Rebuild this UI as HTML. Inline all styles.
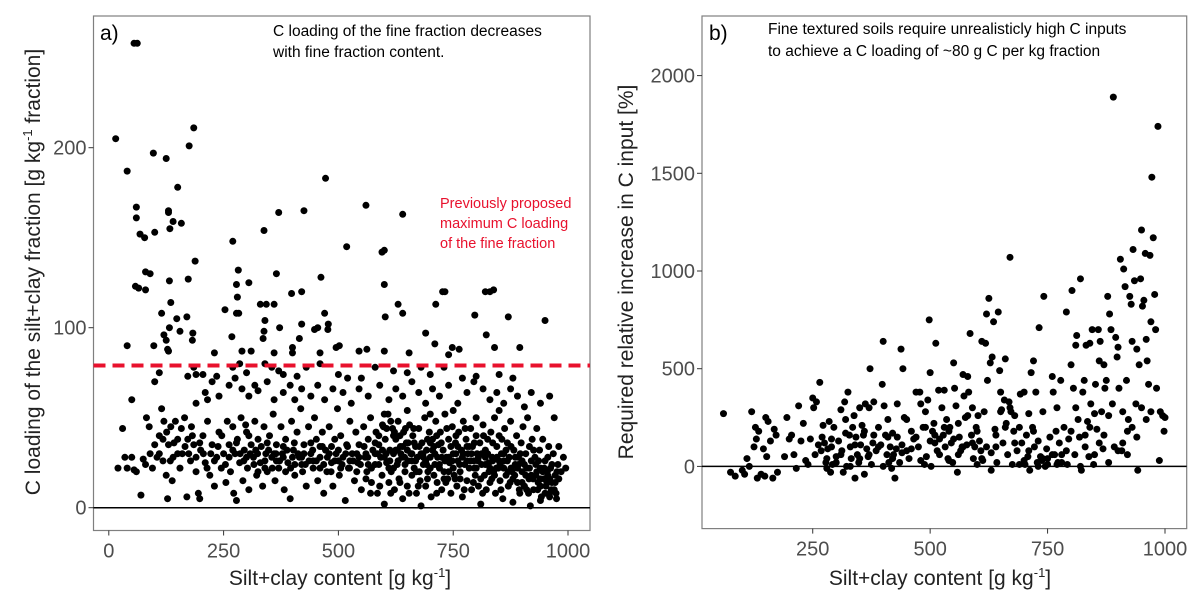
<!DOCTYPE html>
<html><head><meta charset="utf-8"><style>
html,body{margin:0;padding:0;background:#fff;}
svg{display:block;font-family:"Liberation Sans",Arial,sans-serif;}
</style></head><body>
<svg id="chart" width="1200" height="598" viewBox="0 0 1200 598">
<rect x="0" y="0" width="1200" height="598" fill="#fff"/>
<g id="pa"></g>
<g id="pb"></g>
</svg>
<script>
// Panel a data: [silt+clay g/kg, C loading g/kg]
const aPoints = [
[55,258],[62,258],[15,205],[40,187],[97,197],[125,194],[175,201],[185,211],[150,178],[60,167],[60,161],[130,165],[130,164],[140,159],[158,158],[133,155],[100,153],[68,152],[78,150],[188,137],[80,131],[90,130],[58,123],[65,122],[80,121],[132,126],[173,127],[270,148],[282,132],[278,124],[305,125],[280,117],[365,130],[398,119],[420,120],[338,154],[370,164],[425,165],[462,128],[472,183],[560,168],[640,163],[518,145],[595,142],[600,143],[600,124],[630,113],[640,108],[602,106],[712,113],[727,120],[732,120],[820,120],[830,120],[838,121],[797,107],[870,106],[950,104],[822,96],[895,89],[840,89],[763,88],[748,89],[740,85],[710,91],[690,97],[654,86],[600,87],[562,88],[502,90],[495,89],[478,102],[477,99],[470,108],[448,99],[455,100],[420,102],[415,94],[400,89],[372,100],[338,98],[336,94],[340,104],[330,113],[343,113],[360,113],[278,108],[283,108],[253,110],[230,86],[268,95],[290,87],[310,87],[115,108],[135,114],[148,105],[170,106],[120,96],[132,100],[125,93],[155,98],[183,97],[182,93],[130,87],[128,88],[98,90],[40,90],[360,86],[400,86],[460,86],[545,87],
[50,60],[100,70],[110,75],[172,73],[185,78],[190,74],[205,74],[225,70],[235,73],[270,78],[275,72],[285,80],[300,75],[318,68],[340,80],[355,78],[370,76],[380,74],[410,73],[430,78],[460,80],[500,74],[520,72],[550,72],[580,78],[620,76],[650,75],[680,78],[700,74],[730,78],[770,72],[800,73],[850,74],[880,72],[920,64],[960,62],[190,58],[210,64],[215,60],[240,62],[262,68],[290,66],[305,62],[325,65],[345,70],[360,60],[380,64],[395,68],[405,60],[420,66],[440,62],[455,68],[470,60],[488,66],[510,64],[528,58],[545,66],[565,62],[590,68],[610,60],[625,66],[640,62],[660,70],[675,64],[690,58],[705,66],[720,62],[740,68],[760,58],[780,64],[795,70],[815,66],[830,60],[845,64],[860,58],[875,66],[890,62],[905,56],[940,58],[970,50],
[20,22],[30,44],[35,28],[40,22],[50,28],[55,21],[60,20],[70,7],[75,27],[80,24],[82,50],[88,45],[90,30],[95,22],[100,35],[105,28],[110,40],[115,55],[118,26],[120,48],[125,18],[128,5],[130,35],[135,45],[138,15],[140,28],[145,48],[150,38],[155,22],[160,30],[165,50],[170,6],[172,38],[178,26],[180,45],[185,35],[190,20],[195,8],[198,5],[200,32],[205,40],[210,25],[215,48],[220,18],[225,35],[230,12],[235,28],[240,42],[245,22],[250,30],[255,14],[258,48],[262,35],[265,20],[270,45],[272,8],[275,30],[278,4],[280,38],[285,25],[288,50],[292,15],[295,32],[300,42],[302,22],[305,10],[310,35],[315,28],[318,48],[322,18],[325,38],[330,25],[335,12],[338,45],[342,30],[345,20],[350,40],[355,28],[358,52],[362,15],[365,35],[370,22],[375,45],[378,30],[382,10],[385,38],[390,25],[395,5],[398,48],[402,32],[405,18],[410,42],[415,28],[418,55],[422,20],[425,35],[430,12],[435,45],[440,30],[445,22],[448,50],[452,38],[455,15],[460,28],[465,42],[468,8],[472,32],[475,20],[480,45],[485,25],[488,12],[492,38],[495,30],[498,55],[502,18],[505,40],[510,28],[515,4],[518,35],[522,22],[525,48],[530,30],[535,15],[538,42],[542,25],[545,35],[550,10],[555,45],[558,28],[562,20],[565,38],[570,50],[572,14],[575,32],[580,24],[582,42],[585,8],[588,35],[592,28],[595,18],[598,45],[600,2],[602,38],[605,25],[608,52],[610,14],[612,32],[615,20],[618,44],[620,30],[622,10],[625,38],[628,24],[630,48],[632,16],[635,34],[638,28],[640,5],[642,42],[645,20],[648,36],[650,12],[652,26],[655,46],[658,30],[660,18],[662,40],[665,22],[668,34],[670,8],[672,28],[675,44],[678,15],[680,1],[682,36],[685,24],[688,50],[690,12],[692,32],[695,20],[698,42],[700,28],[702,6],[705,38],[708,18],[710,30],[712,48],[715,14],[718,35],[720,24],[722,42],[725,10],[728,32],[730,20],[732,52],[735,28],[738,16],[740,38],[742,25],[745,8],[748,45],[750,30],[752,18],[755,36],[758,12],[760,26],[762,42],[765,20],[768,32],[770,6],[772,48],[775,24],[778,38],[780,15],[782,30],[785,22],[788,44],[790,10],[792,34],[795,26],[798,18],[800,40],[802,30],[805,12],[808,36],[810,2],[812,24],[815,46],[818,18],[820,32],[822,10],[825,38],[828,25],[830,14],[832,42],[835,28],[838,20],[840,50],[842,8],[845,34],[848,22],[850,40],[852,15],[855,30],[858,5],[860,26],[862,44],[865,18],[868,36],[870,12],[872,28],[875,48],[878,20],[880,3],[882,32],[885,24],[888,40],[890,14],[892,28],[895,8],[898,36],[900,20],[902,45],[905,12],[908,30],[910,22],[912,50],[915,16],[918,1],[920,26],[922,38],[925,10],[928,28],[930,18],[932,44],[935,14],[938,32],[940,22],[942,6],[945,38],[948,16],[950,26],[952,12],[955,20],[958,34],[960,8],[962,22],[965,14],[968,30],[970,10],[972,18],[975,5],[978,24],[980,34],[985,20],[990,28],[995,22],
[300,28],[320,32],[340,26],[360,30],[380,34],[400,28],[420,24],[440,36],[460,22],[480,30],[500,26],[520,34],[540,20],[560,30],[580,36],[600,28],[620,40],[640,34],[660,26],[680,30],[700,36],[720,22],[740,28],[760,34],[780,26],[800,22],[820,28],[840,18],[860,22],[880,16],[900,14],[920,18],[940,12],[960,16],[610,22],[630,26],[650,32],[670,20],[690,26],[710,24],[730,16],[750,22],[770,28],[790,30],[810,16],[830,22],[850,26],[870,20],[890,22],[910,10],[930,24],[950,8],[305,40],[325,20],[345,36],[365,26],[385,20],[405,24],[425,30],[445,26],[465,34],[485,34],[505,22],[525,26],[545,28],[565,24],[585,30],[605,44],[625,32],[645,24],[665,36],[685,28],[705,32],[725,28],[745,34],[765,16],[785,34],[805,28],[825,30],[845,28],[865,32],[885,28],[905,24],[925,32],[945,20],[965,24],
[110,30],[118,38],[126,42],[134,26],[142,36],[150,30],[158,44],[166,34],[174,30],[182,40],[190,28],[198,36],[206,30],[214,22],[222,30],[230,26],[238,34],[246,40],[254,24],[262,28],[270,32],[278,36],[286,30],[294,26],[298,46],[308,30],[316,24],[324,30],[332,34],[340,22],[348,32],[356,22],[364,30],[372,26],[380,28],[388,32],[396,22],[404,36],[412,30],[420,28],[428,24],[436,26],[444,32],[452,26],[460,34],[468,24],[476,28],[484,20],[492,26],[500,32],[508,24],[516,30],[524,22],[532,26],[540,30],[548,24],[556,34],[564,28],[572,22],[580,30],[588,24],[596,32],[604,30],[612,26],[620,22],[628,32],[636,30],[644,28],[652,36],[660,30],[668,26],[676,34],[684,30],[692,24],[700,22],[708,34],[716,28],[724,36],[732,26],[740,20],[748,26],[756,30],[764,24],[772,30],[780,34],[788,26],[796,22],[804,26],[812,30],[820,24],[828,20],[836,26],[844,22],[852,24],[860,30],[868,26],[876,22],[884,18],[892,24],[900,26],[908,18],[916,22],[924,16],[932,20],[940,16],[948,22],[956,18],[964,10],[972,14],[980,16],[588,40],[596,46],[614,48],[622,42],[634,40],[646,44],[664,44],[676,20],[694,38],[714,40],[736,44],[756,40],[776,44],[796,36],[816,40],[836,36],[856,38],[876,34],[896,30],[916,34],[936,26],[956,28],[976,20],[560,16],[570,8],[590,12],[614,8],[634,14],[654,8],[674,12],[694,16],[714,8],[734,14],[754,16],[774,10],[794,14],[814,8],[834,16],[854,10],[874,14],[894,10],[914,8],[934,10],[954,14],[974,8],[940,4],[960,6],[600,52],[650,54],[700,52],[750,54],[800,50],[850,54]
];
// Panel b data: [silt+clay g/kg, required relative increase %]
const bPoints = [
[60,270],[75,-30],[85,-50],[100,-20],[105,-40],[110,40],[115,0],[120,280],[125,100],[128,200],[130,140],[132,-60],[135,180],[140,-40],[145,90],[148,-50],[150,250],[152,50],[155,230],[160,130],[165,-60],[168,190],[172,160],[175,-30],[190,50],[195,250],[200,140],[205,160],[210,60],[215,-10],[220,310],[225,130],[230,220],[235,30],[240,10],[245,140],[250,350],[252,300],[255,60],[258,330],[262,110],[265,430],[268,80],[272,210],[275,120],[278,20],[280,-10],[282,90],[285,230],[288,-30],[290,140],[292,10],[295,200],[300,50],[305,130],[310,290],[312,80],[315,-30],[318,330],[320,240],[322,0],[325,380],[328,160],[330,100],[332,40],[335,200],[338,260],[340,-60],[342,150],[345,60],[348,20],[350,300],[352,110],[355,210],[358,160],[360,-40],[362,320],[365,90],[368,50],[370,300],[372,500],[375,10],[378,120],[380,330],[385,80],[390,200],[395,110],[398,420],[400,640],[402,310],[405,160],[408,60],[410,240],[412,20],[415,100],[418,-10],[420,170],[422,60],[425,-60],[428,90],[430,320],[435,20],[438,600],[440,110],[442,500],[445,250],[450,80],[455,40],[460,180],[465,140],[470,380],[475,100],[478,380],[480,320],[485,200],[488,10],[490,280],[492,50],[495,340],[498,750],[500,480],[502,0],[505,180],[508,220],[510,120],[512,630],[515,80],[518,390],[520,140],[525,300],[528,160],[530,390],[532,100],[535,240],[538,40],[540,180],[542,200],[545,120],[548,20],[550,530],[552,400],[555,310],[558,-30],[560,220],[562,150],[565,80],[568,100],[570,470],[572,360],[575,250],[578,110],[580,460],[582,380],[585,680],[588,160],[590,300],[592,40],[595,100],[598,200],[600,10],[602,260],[605,130],[608,80],[610,640],[612,30],[615,280],[618,630],[620,780],[622,440],[625,860],[628,530],[630,-20],[632,560],[635,740],[638,190],[640,100],[642,20],[645,790],[648,490],[650,380],[652,290],[655,120],[658,340],[660,550],[662,220],[665,60],[668,330],[670,1070],[672,280],[675,10],[678,180],[680,260],[685,80],[690,200],[692,370],[695,120],[700,380],[702,10],[705,160],[708,50],[710,270],[712,-20],[715,480],[718,200],[720,540],[722,100],[725,380],[728,20],[730,130],[732,710],[735,50],[738,30],[740,280],[742,870],[745,0],[748,90],[750,40],[755,150],[760,460],[762,380],[765,60],[768,180],[770,300],[772,20],[775,120],[778,440],[780,60],[785,200],[790,790],[792,10],[795,140],[800,520],[802,900],[805,400],[808,60],[810,620],[812,670],[815,240],[818,150],[820,960],[822,-20],[825,380],[828,440],[830,100],[832,620],[835,230],[838,50],[840,630],[842,320],[845,700],[848,10],[850,270],[852,420],[855,190],[858,700],[860,540],[862,640],[865,280],[868,90],[870,520],[872,400],[875,440],[878,870],[880,20],[882,780],[885,700],[888,320],[890,1890],[892,100],[895,660],[898,560],[900,610],[902,400],[905,1060],[908,80],[910,280],[912,1010],[915,920],[918,440],[920,180],[922,240],[925,870],[928,830],[930,640],[932,1110],[935,950],[938,320],[940,600],[942,-20],[945,520],[948,960],[950,1210],[952,820],[955,850],[958,1090],[960,650],[962,540],[965,420],[968,1080],[970,740],[972,1480],[975,1170],[978,880],[980,700],[982,400],[985,1740],[988,30],[990,280],[995,260],[998,180],[1000,250],
[900,80],[910,120],[920,60],[930,200],[940,150],[950,300],[960,240],[970,280],[880,260],[870,160],[860,120],[850,60],[840,200],[830,160],[820,0],[810,300],[800,180],[790,80],[780,20],[770,10],[760,60],[750,10],[740,40],[730,0],[720,180],[710,80],[700,30],[690,10],[680,120],[670,300],[660,200],[650,280],[640,160],[630,70],[620,100],[610,40],[600,180],[590,120],[580,260],[570,100],[560,60],[550,140],[540,30],[530,200],[520,60],[510,160],[500,130],[490,200],[480,30],[470,150],[460,90],[450,240],[440,70],[430,150],[420,40],[410,150],[400,0],[390,100],[380,160],[370,60],[360,180],[350,40],[340,110],[330,0],[320,170],[310,60],[300,20],[290,100],[280,40],[270,150]
];
const aXTicks = [0,250,500,750,1000];
const aYTicks = [0,100,200];
const bXTicks = [250,500,750,1000];
const bYTicks = [0,500,1000,1500,2000];
const aRefLine = 79;

const NS="http://www.w3.org/2000/svg";
function mk(parent,tag,attrs,text){const e=document.createElementNS(NS,tag);for(const k in attrs)e.setAttribute(k,attrs[k]);if(text!==undefined)e.textContent=text;parent.appendChild(e);return e;}

const ax=v=>108.8+v*0.4592;
const ay=v=>507.7-v*1.8;
const bx=v=>695.3+v*0.4697;
const by=v=>466.4-v*0.1954;

const pa=document.getElementById('pa');
const pb=document.getElementById('pb');

function drawPanel(g,box,xs,ys,xT,yT,pts){
  const frame=mk(g,'rect',{x:box[0],y:box[1],width:box[2]-box[0],height:box[3]-box[1],fill:'none',stroke:'#7f7f7f','stroke-width':1.2});
  
  
  const zl=mk(g,'line',{x1:box[0],x2:box[2],y1:ys(0),y2:ys(0),stroke:'#000','stroke-width':1.5});
  
  
  xT.forEach(t=>{
    const tk=mk(g,'line',{x1:xs(t),x2:xs(t),y1:box[3],y2:box[3]+5,stroke:'#333','stroke-width':1});
    
    
    const tl=mk(g,'text',{x:xs(t),y:box[3]+27,'text-anchor':'middle','font-size':20,fill:'#4d4d4d'},String(t));
    
    
  });
  yT.forEach(t=>{
    const tk=mk(g,'line',{x1:box[0]-5,x2:box[0],y1:ys(t),y2:ys(t),stroke:'#333','stroke-width':1});
    
    
    const tl=mk(g,'text',{x:box[0]-7,y:ys(t)+7,'text-anchor':'end','font-size':20,fill:'#4d4d4d'},String(t));
    
    
  });
  pts.forEach(p=>{
    const c=mk(g,'circle',{cx:xs(p[0]),cy:ys(p[1]),r:3.5,fill:'#000'});
    
    
  });
}
drawPanel(pa,[93.5,16,590,530.5],ax,ay,aXTicks,aYTicks,aPoints);
drawPanel(pb,[702,16,1186.7,528.6],bx,by,bXTicks,bYTicks,bPoints);

const rl=mk(pa,'line',{x1:93.5,x2:590,y1:ay(aRefLine),y2:ay(aRefLine),stroke:'#e8112d','stroke-width':4,'stroke-dasharray':'12,7'});



function txt(g,attrs,s,name){const t=mk(g,'text',attrs,s);return t;}
txt(pa,{x:100,y:40,'font-size':21,fill:'#000'},'a)','panel-a-label');
txt(pa,{x:273,y:36,'font-size':15.5,fill:'#000'},'C loading of the fine fraction decreases','panel-a-note-1');
txt(pa,{x:273,y:57,'font-size':15.5,fill:'#000'},'with fine fraction content.','panel-a-note-2');
txt(pa,{x:440,y:208,'font-size':14.5,fill:'#e8112d'},'Previously proposed','red-note-1');
txt(pa,{x:440,y:228,'font-size':14.5,fill:'#e8112d'},'maximum C loading','red-note-2');
txt(pa,{x:440,y:248,'font-size':14.5,fill:'#e8112d'},'of the fine fraction','red-note-3');
const xa=txt(pa,{x:340,y:585,'text-anchor':'middle','font-size':21,fill:'#222'},'','x-axis-title-a');
xa.innerHTML='Silt+clay content [g kg<tspan dy="-8" font-size="13">-1</tspan><tspan dy="8">]</tspan>';
const ya=txt(pa,{x:0,y:0,'text-anchor':'middle','font-size':21,fill:'#222',transform:'translate(40,272) rotate(-90)'},'','y-axis-title-a');
ya.innerHTML='C loading of the silt+clay fraction [g kg<tspan dy="-8" font-size="13">-1</tspan><tspan dy="8"> fraction]</tspan>';

txt(pb,{x:709,y:40,'font-size':21,fill:'#000'},'b)','panel-b-label');
txt(pb,{x:768,y:34,'font-size':15.5,fill:'#000'},'Fine textured soils require unrealisticly high C inputs','panel-b-note-1');
txt(pb,{x:768,y:56,'font-size':15.5,fill:'#000'},'to achieve a C loading of ~80 g C per kg fraction','panel-b-note-2');
const xb=txt(pb,{x:940,y:585,'text-anchor':'middle','font-size':21,fill:'#222'},'','x-axis-title-b');
xb.innerHTML='Silt+clay content [g kg<tspan dy="-8" font-size="13">-1</tspan><tspan dy="8">]</tspan>';
txt(pb,{x:0,y:0,'text-anchor':'middle','font-size':21,fill:'#222',transform:'translate(633,272) rotate(-90)'},'Required relative increase in C input  [%]','y-axis-title-b');
</script>
</body></html>
